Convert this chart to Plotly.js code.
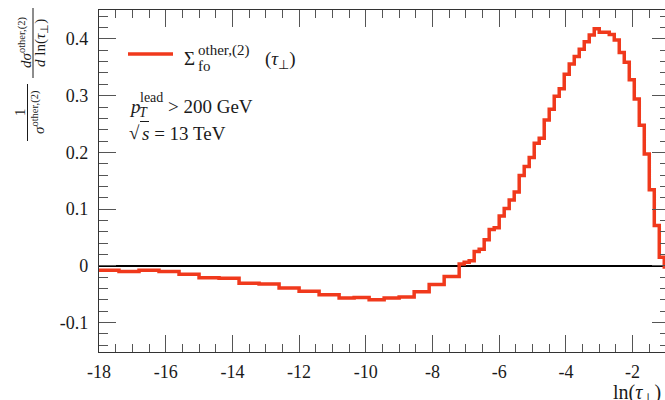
<!DOCTYPE html>
<html>
<head>
<meta charset="utf-8">
<script src="https://cdn.plot.ly/plotly-3.0.1.min.js"></script>
<style>
  html, body { margin: 0; padding: 0; overflow: hidden; background: #fff; }
  #chart { width: 670px; height: 400px; }
</style>
</head>
<body>
<div id="chart"></div>
<script>
// Bin edges in ln(tau_perp): coarse bins on the far left, finer towards the peak
const binEdges = [
  -18, -17.4, -16.8, -16.2, -15.6, -15.0, -14.4, -13.8, -13.2, -12.6, -12.0, -11.4, -10.8,
  -10.35, -9.9, -9.45, -9.0, -8.55, -8.1, -7.65, -7.2,
  -7.05, -6.9, -6.75, -6.6, -6.45, -6.3, -6.15, -6.0, -5.85, -5.7, -5.55, -5.4, -5.25, -5.1,
  -4.95, -4.8, -4.65, -4.5, -4.35, -4.2, -4.05, -3.9, -3.75, -3.6, -3.45, -3.3, -3.15, -3.0,
  -2.85, -2.7, -2.55, -2.4, -2.25, -2.1, -1.95, -1.8, -1.65, -1.5, -1.35, -1.2, -1.05, -0.9
];

// Normalised distribution per bin
const binValues = [
  -0.008, -0.010, -0.008, -0.010, -0.015, -0.021, -0.022, -0.031, -0.032, -0.039, -0.045, -0.051,
  -0.057, -0.056, -0.060, -0.057, -0.055, -0.046, -0.033, -0.019,
  0.003, 0.006, 0.009, 0.025, 0.029, 0.046, 0.064, 0.067, 0.088, 0.101, 0.116, 0.130,
  0.159, 0.175, 0.191, 0.216, 0.225, 0.257, 0.276, 0.299, 0.312, 0.338, 0.356, 0.369,
  0.382, 0.395, 0.407, 0.418, 0.412, 0.412, 0.408, 0.398, 0.376, 0.359, 0.328, 0.294,
  0.248, 0.197, 0.134, 0.071, 0.015, -0.002
];

const xTickVals = [-18, -16, -14, -12, -10, -8, -6, -4, -2];
const xTickText = ['-18', '-16', '-14', '-12', '-10', '-8', '-6', '-4', '-2'];
const yTickVals = [-0.1, 0, 0.1, 0.2, 0.3, 0.4];
const yTickText = ['-0.1', '0', '0.1', '0.2', '0.3', '0.4'];

const lineColor = '#f0391c';
const FONT = 'Liberation Serif';
const TXT = '#1a1a1a';

// plot-area geometry (pixels)
const W = 670, H = 400;
const M = { l: 99, r: 1, t: 10, b: 48 };
const plotW = W - M.l - M.r, plotH = H - M.t - M.b;

// pixel -> paper helpers for the decorations
const px = x => (x - M.l) / plotW;
const py = y => (H - M.b - y) / plotH;

function note(text, x, y, size, opts) {
  return Object.assign({
    text: text, xref: 'paper', yref: 'paper', x: px(x), y: py(y),
    showarrow: false, xanchor: 'left', yanchor: 'middle',
    font: { family: FONT, size: size, color: TXT }
  }, opts || {});
}

const trace = {
  x: binEdges,
  y: binValues.concat([binValues[binValues.length - 1]]),
  type: 'scatter',
  mode: 'lines',
  line: { shape: 'hv', color: lineColor, width: 3.5 },
  hoverinfo: 'skip',
  showlegend: false
};

const axisCommon = {
  showline: true, linecolor: '#333', linewidth: 1.2, mirror: 'ticks',
  ticks: 'inside', ticklen: 17, tickwidth: 1, tickcolor: '#555',
  showgrid: false, tickmode: 'array',
  tickfont: { family: FONT, size: 18, color: TXT }
};

const layout = {
  width: W, height: H,
  margin: M,
  font: { family: FONT, color: TXT },
  paper_bgcolor: '#fff', plot_bgcolor: '#fff',
  showlegend: false,
  xaxis: Object.assign({}, axisCommon, {
    range: [-18, -18 + plotW / 33.35],
    tickvals: xTickVals, ticktext: xTickText,
    zeroline: false,
    ticklabelstandoff: 3,
    minor: { dtick: 0.5, tick0: -18, ticks: 'inside', ticklen: 8, tickcolor: '#555', tickwidth: 1 }
  }),
  yaxis: Object.assign({}, axisCommon, {
    range: [0.4511 - plotH / 567, 0.4511],
    tickvals: yTickVals, ticktext: yTickText,
    zeroline: true, zerolinecolor: '#000', zerolinewidth: 1.5,
    ticklabelstandoff: 6,
    minor: { dtick: 0.02, tick0: 0, ticks: 'inside', ticklen: 9, tickcolor: '#555', tickwidth: 1 }
  }),
  shapes: [
    // legend key
    { type: 'line', xref: 'paper', yref: 'paper', x0: px(128), x1: px(173), y0: py(54), y1: py(54),
      line: { color: lineColor, width: 3.5 } },
    // overline of the square root
    { type: 'line', xref: 'paper', yref: 'paper', x0: px(140), x1: px(149), y0: py(121.5), y1: py(121.5),
      line: { color: TXT, width: 1 } },
    // fraction bars of the y-axis label
    { type: 'line', xref: 'paper', yref: 'paper', x0: px(33), x1: px(33), y0: py(8), y1: py(78),
      line: { color: TXT, width: 1 } },
    { type: 'line', xref: 'paper', yref: 'paper', x0: px(27.5), x1: px(27.5), y0: py(84), y1: py(141),
      line: { color: TXT, width: 1 } }
  ],
  annotations: [
    // legend text
    note('Σ', 182, 59, 19),
    note('other,(2)', 196, 50, 15),
    note('fo', 196, 66, 15),
    note('(<i>τ</i><sub>⊥</sub>)', 263, 60, 19),
    // cuts
    note('<i>p</i>', 127, 106, 19),
    note('lead', 138, 97, 14),
    note('<i>T</i>', 137, 112, 14),
    note('> 200 GeV', 166, 106, 19),
    note('√', 127, 132, 19),
    note('<i>s</i> = 13 TeV', 140, 133, 19),
    // x-axis title
    note('ln(<i>τ</i><sub>⊥</sub>)', 611, 393, 20),
    // y-axis title: (1/sigma) dsigma/dln(tau)
    note('<i>dσ</i><sup>other,(2)</sup>', 25, 43, 15, { textangle: -90, xanchor: 'center' }),
    note('<i>d</i> ln(<i>τ</i><sub>⊥</sub>)', 41, 43, 15, { textangle: -90, xanchor: 'center' }),
    note('1', 20, 112, 15, { textangle: -90, xanchor: 'center' }),
    note('<i>σ</i><sup>other,(2)</sup>', 38, 112, 15, { textangle: -90, xanchor: 'center' })
  ]
};

Plotly.newPlot('chart', [trace], layout, { staticPlot: true, displayModeBar: false });
</script>
</body>
</html>
